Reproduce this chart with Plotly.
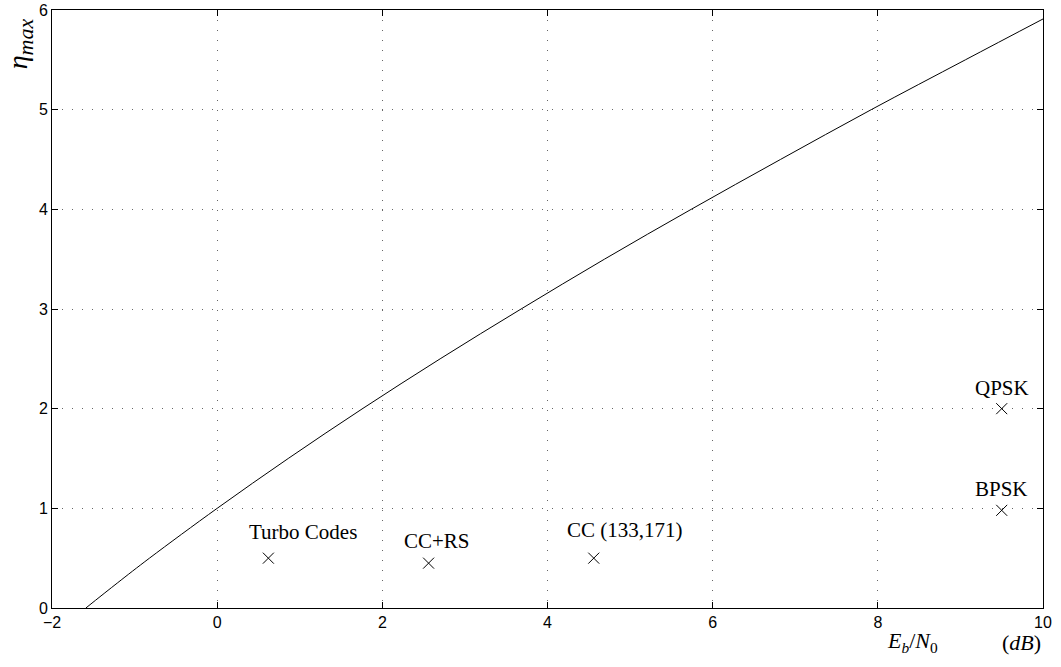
import plotly.graph_objects as go

# Capacity bound curve
curve_ebno_db = [-1.59, -1.21, -0.82, 0.0, 0.86, 1.76, 2.70, 3.68, 4.69, 5.74, 6.82, 7.92, 9.06, 10.0]
curve_eta = [0.0, 0.25, 0.5, 1.0, 1.5, 2.0, 2.5, 3.0, 3.5, 4.0, 4.5, 5.0, 5.5, 5.91]

# Scheme points
scheme_names = ["Turbo Codes", "CC+RS", "CC (133,171)", "QPSK", "BPSK"]
scheme_ebno_db = [0.62, 2.56, 4.56, 9.5, 9.5]
scheme_eta = [0.5, 0.45, 0.5, 2.0, 0.98]

x_ticks = [-2, 0, 2, 4, 6, 8, 10]
y_ticks = [0, 1, 2, 3, 4, 5, 6]

fig = go.Figure()
fig.add_trace(go.Scatter(x=curve_ebno_db, y=curve_eta, mode="lines",
                         line=dict(color="black", width=1, shape="spline"),
                         showlegend=False, hoverinfo="skip"))
fig.add_trace(go.Scatter(x=scheme_ebno_db, y=scheme_eta, mode="markers",
                         marker=dict(symbol="x-thin", size=11, color="black",
                                     line=dict(color="black", width=1)),
                         showlegend=False))

label_offsets = [(35, 26), (8, 22), (31, 28), (0, 21), (0, 21)]
for name, x, y, (dx, dy) in zip(scheme_names, scheme_ebno_db, scheme_eta, label_offsets):
    fig.add_annotation(x=x, y=y, text=name, showarrow=False, xshift=dx, yshift=dy,
                       xanchor="center", yanchor="middle",
                       font=dict(family="Liberation Serif", size=21, color="black"))

fig.add_annotation(xref="paper", yref="paper", x=-0.032, y=0.943,
                   xanchor="center", yanchor="middle",
                   text="<i>η</i><sub><span style='font-size:22px'><i>max</i></span></sub>",
                   showarrow=False, textangle=-90,
                   font=dict(family="Liberation Serif", size=28, color="black"))
fig.add_annotation(xref="paper", yref="paper", x=0.868, y=-0.057,
                   xanchor="center", yanchor="middle",
                   text="<i>E</i><sub><i>b</i></sub>/<i>N</i><sub>0</sub>", showarrow=False,
                   font=dict(family="Liberation Serif", size=22, color="black"))
fig.add_annotation(xref="paper", yref="paper", x=0.978, y=-0.057,
                   xanchor="center", yanchor="middle",
                   text="(<i>dB</i>)", showarrow=False,
                   font=dict(family="Liberation Serif", size=22, color="black"))

axis_common = dict(showline=True, linecolor="black", linewidth=1, mirror="ticks",
                   ticks="inside", ticklen=6, tickcolor="black", tickwidth=1,
                   showgrid=True, gridcolor="#666666", griddash="1px,9px", gridwidth=1,
                   zeroline=False, automargin=False,
                   tickfont=dict(family="Liberation Sans", size=16, color="black"))

fig.update_xaxes(range=[-2, 10], tickvals=x_ticks,
                 ticktext=["\u22122" if t < 0 else str(t) for t in x_ticks], **axis_common)
fig.update_yaxes(range=[0, 6], tickvals=y_ticks, **axis_common)

fig.update_layout(width=1061, height=667, margin=dict(l=52, r=18, t=10, b=59, autoexpand=False),
                  plot_bgcolor="white", paper_bgcolor="white")

fig.write_html("out.html", config={"displayModeBar": False},
               post_script="document.body.style.margin='0';")
